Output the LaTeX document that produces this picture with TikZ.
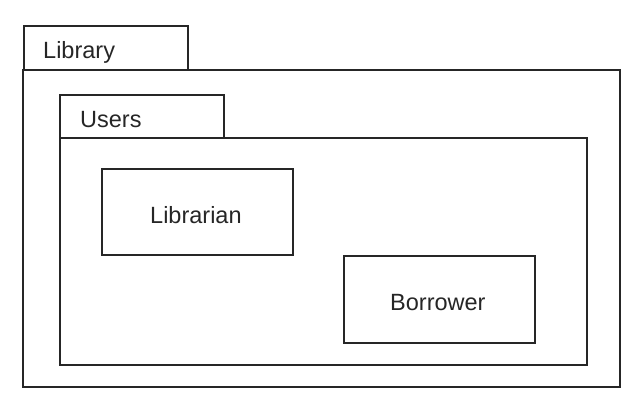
\documentclass[tikz,border=0pt]{standalone}
\usepackage{fontspec}
\setmainfont{Liberation Sans}
\begin{document}
\begin{tikzpicture}[x=1pt,y=-1pt,
  box/.style={draw=black!85,line width=1.8pt},
  lbl/.style={inner sep=0pt,anchor=base west,font=\fontsize{23.5}{28}\selectfont,text=black!85}]
\useasboundingbox (0,0) rectangle (644,417);
% outer package
\draw[box] (24,26) rectangle (188,70);
\draw[box] (23,70) rectangle (620,387);
\node[lbl] (libtxt) at (43,59) {Library};
% inner package
\draw[box] (60,95) rectangle (224,138);
\draw[box] (60,138) rectangle (587,365);
\node[lbl] (usrtxt) at (80,127) {Users};
% classes
\node[box,minimum width=191pt,minimum height=86pt,inner sep=0pt] (librarian) at (197.5,212) {};
\node[lbl] (librariantxt) at (150,223) {Librarian};
\node[box,minimum width=191pt,minimum height=87pt,inner sep=0pt] (borrower) at (439.5,299.5) {};
\node[lbl] (borrowertxt) at (390,310) {Borrower};
\end{tikzpicture}
\end{document}
